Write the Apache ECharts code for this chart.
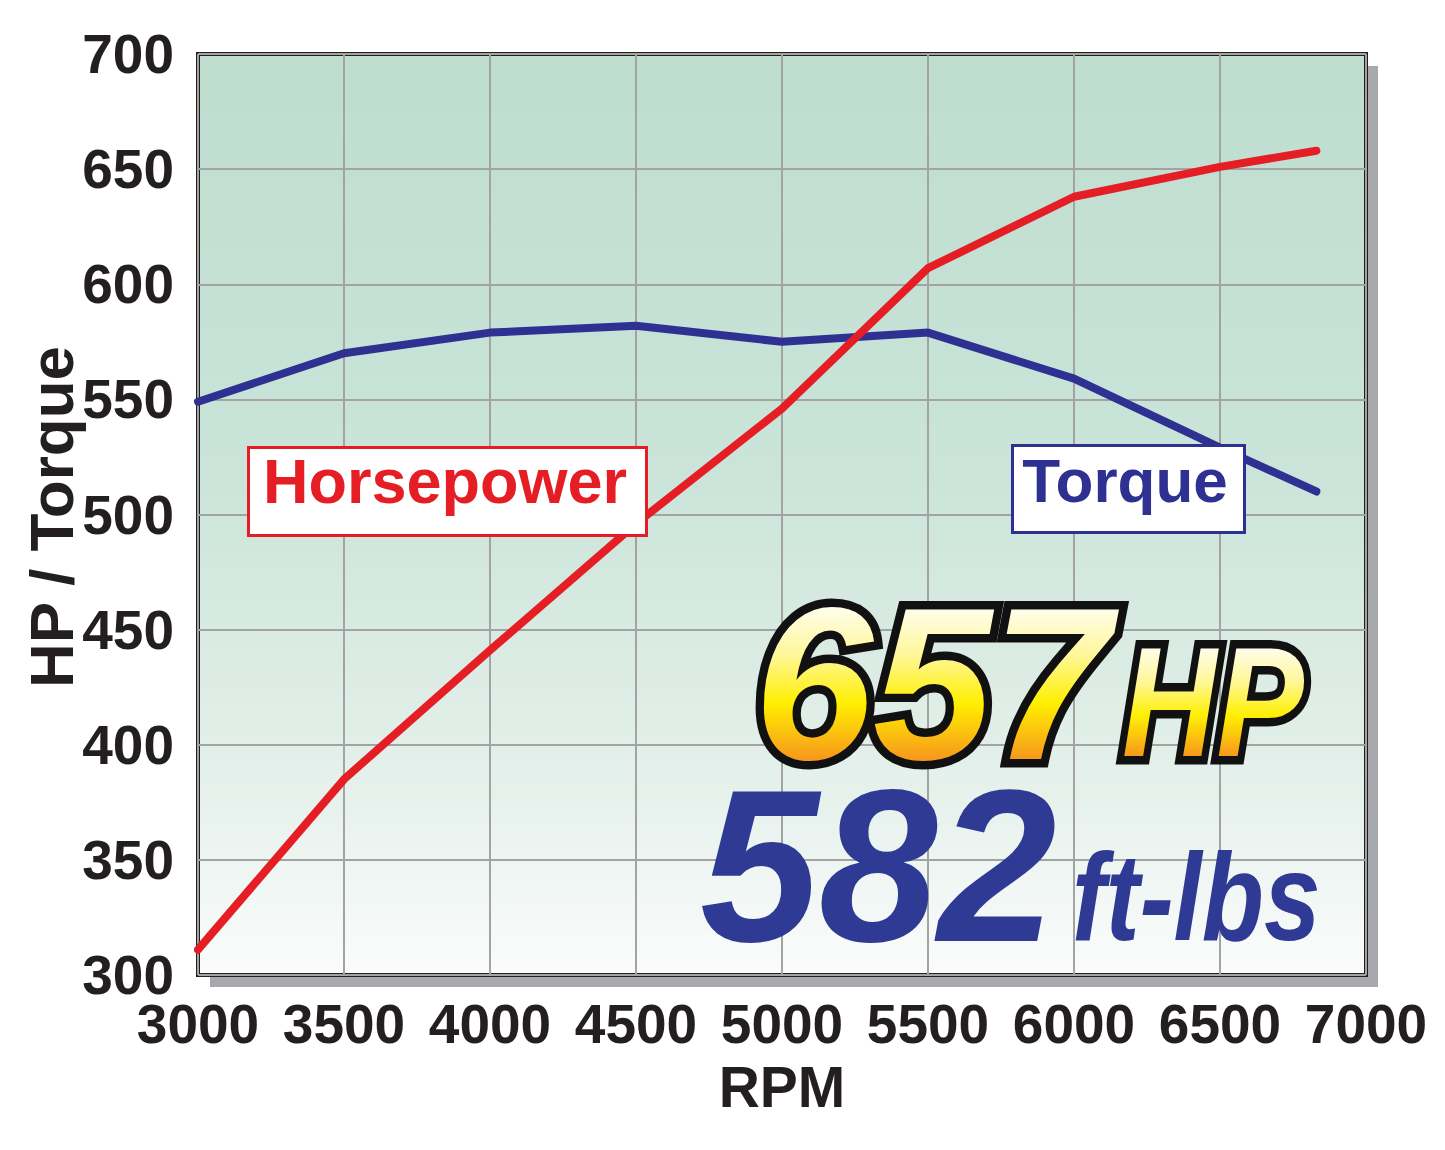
<!DOCTYPE html>
<html>
<head>
<meta charset="utf-8">
<script src="https://cdn.jsdelivr.net/npm/echarts@6/dist/echarts.min.js"></script>
<style>
html,body{margin:0;padding:0;background:#fff;}
#chart{width:1445px;height:1150px;}
</style>
</head>
<body>
<div id="chart"></div>
<script>
// ---- data ----
var rpm = [3000, 3500, 4000, 4500, 5000, 5500, 6000, 6500, 6830];
var horsepower = [311, 385, 441, 496, 546, 607, 638, 651, 658];
var torque = [549, 570, 579, 582, 575, 579, 559, 529, 510];
var xTicks = [3000, 7000, 500];   // min, max, step
var yTicks = [300, 700, 50];      // min, max, step
var peakHP = '657';
var peakTQ = '582';

var RED = '#E51E25';
var BLUE = '#2E3192';
var INK = '#231F20';
var GOLD_KEY = '#FFEF01';   // solid fallback; replaced by a yellow-orange gradient below
var TICKFONT = '"Liberation Sans", Arial, sans-serif';

function pairs(xs, ys) { return xs.map(function (x, i) { return [x, ys[i]]; }); }

var chart = echarts.init(document.getElementById('chart'), null, {renderer: 'svg'});

function bigText(txt, x, y, size, sx, fill, outline) {
  var els = [];
  var font = 'italic bold ' + size + 'px "Liberation Sans"';
  if (outline) {
    els.push({
      type: 'text', x: x, y: y, z: 110, scaleX: sx, originX: 0, originY: 0,
      style: {text: txt, fill: '#111111', stroke: '#111111', lineWidth: 17,
              lineJoin: 'round', font: font, textAlign: 'left', textVerticalAlign: 'middle'}
    });
  }
  els.push({
    type: 'text', x: x, y: y, z: 111, scaleX: sx, originX: 0, originY: 0,
    style: {text: txt, fill: fill, font: font, textAlign: 'left', textVerticalAlign: 'middle'}
  });
  return els;
}

var graphics = [
  // drop shadow behind the plot frame
  {
    type: 'rect', z: -10, silent: true,
    shape: {x: 210, y: 66, width: 1168, height: 921},
    style: {fill: '#A7A9AC'}
  },
  // axis titles
  {
    type: 'text', x: 51, y: 517, rotation: Math.PI / 2, z: 10,
    style: {text: 'HP / Torque', fill: INK, font: 'bold 62px "Liberation Sans"',
            textAlign: 'center', textVerticalAlign: 'middle'}
  },
  {
    type: 'text', x: 782, y: 1087, z: 10,
    style: {text: 'RPM', fill: INK, font: 'bold 57px "Liberation Sans"',
            textAlign: 'center', textVerticalAlign: 'middle'}
  },
  // series labels
  {
    type: 'rect', z: 100,
    shape: {x: 248.5, y: 447.5, width: 398, height: 88},
    style: {fill: '#ffffff', stroke: RED, lineWidth: 3}
  },
  {
    type: 'text', x: 445, y: 481, z: 101,
    style: {text: 'Horsepower', fill: RED, font: 'bold 63px "Liberation Sans"',
            textAlign: 'center', textVerticalAlign: 'middle'}
  },
  {
    type: 'rect', z: 100,
    shape: {x: 1012.5, y: 445.5, width: 232, height: 87},
    style: {fill: '#ffffff', stroke: BLUE, lineWidth: 3}
  },
  {
    type: 'text', x: 1125, y: 480, z: 101,
    style: {text: 'Torque', fill: BLUE, font: 'bold 62px "Liberation Sans"',
            textAlign: 'center', textVerticalAlign: 'middle'}
  }
];
graphics = graphics
  .concat(bigText(peakHP, 754, 684, 218, 0.98, GOLD_KEY, true))
  .concat(bigText('HP', 1122, 702, 156, 0.84, GOLD_KEY, true))
  .concat(bigText(peakTQ, 700, 866, 218, 0.98, '#2E3A93', false))
  .concat(bigText('ft-lbs', 1072, 897, 124, 0.82, '#2E3A93', false));

var option = {
  backgroundColor: '#ffffff',
  animation: false,
  grid: {
    left: 198, top: 54, right: 79, bottom: 175,
    show: true,
    backgroundColor: {
      type: 'linear', x: 0, y: 0, x2: 0, y2: 1,
      colorStops: [
        {offset: 0, color: '#BEDDCF'},
        {offset: 0.45, color: '#CAE4D9'},
        {offset: 0.8, color: '#E6F1EC'},
        {offset: 1, color: '#FAFCFB'}
      ]
    },
    borderColor: INK,
    borderWidth: 4
  },
  xAxis: {
    type: 'value',
    min: xTicks[0], max: xTicks[1], interval: xTicks[2],
    axisLine: {show: false},
    axisTick: {show: false},
    axisLabel: {
      color: INK, fontFamily: TICKFONT, fontWeight: 'bold',
      fontSize: 55, margin: 21, showMaxLabel: true, showMinLabel: true,
      formatter: function (v) { return String(v); }
    },
    splitLine: {show: true, lineStyle: {color: '#A3A3A3', width: 2}}
  },
  yAxis: {
    type: 'value',
    min: yTicks[0], max: yTicks[1], interval: yTicks[2],
    axisLine: {show: false},
    axisTick: {show: false},
    axisLabel: {
      color: INK, fontFamily: TICKFONT, fontWeight: 'bold',
      fontSize: 55, margin: 24, padding: [0, 0, 8, 0],
      formatter: function (v) { return String(v); }
    },
    splitLine: {show: true, lineStyle: {color: '#A3A3A3', width: 2}}
  },
  series: [
    {
      name: 'Torque', type: 'line', data: pairs(rpm, torque),
      symbol: 'none', z: 3,
      lineStyle: {color: BLUE, width: 8, cap: 'round', join: 'round'}
    },
    {
      name: 'Horsepower', type: 'line', data: pairs(rpm, horsepower),
      symbol: 'none', z: 4,
      lineStyle: {color: RED, width: 8, cap: 'round', join: 'round'}
    }
  ],
  graphic: graphics
};

// give the yellow callout text its vertical white-yellow-orange gradient (SVG text stays real text)
function applyGradient() {
  var svg = document.querySelector('#chart svg');
  if (!svg) return;
  var ns = 'http://www.w3.org/2000/svg';
  if (!document.getElementById('ygrad')) {
    var defs = document.createElementNS(ns, 'defs');
    var lg = document.createElementNS(ns, 'linearGradient');
    lg.setAttribute('id', 'ygrad');
    lg.setAttribute('x1', '0'); lg.setAttribute('y1', '0');
    lg.setAttribute('x2', '0'); lg.setAttribute('y2', '1');
    [[0.0, '#FFFFF2'], [0.2, '#FFFDE6'], [0.38, '#FFF79A'], [0.58, '#FFEF00'], [0.82, '#F7941D'], [1, '#F7941D']]
      .forEach(function (s) {
        var st = document.createElementNS(ns, 'stop');
        st.setAttribute('offset', s[0]);
        st.setAttribute('stop-color', s[1]);
        lg.appendChild(st);
      });
    defs.appendChild(lg);
    svg.insertBefore(defs, svg.firstChild);
  }
  var texts = svg.querySelectorAll('text');
  for (var i = 0; i < texts.length; i++) {
    var f = (texts[i].getAttribute('fill') || '').toLowerCase().replace(/\s/g, '');
    if (f === GOLD_KEY.toLowerCase() || f === 'rgb(255,239,1)') {
      texts[i].style.fill = 'url(#ygrad)';
    }
  }
}
chart.on('finished', applyGradient);
chart.setOption(option);
applyGradient();
setTimeout(applyGradient, 30);
</script>
</body>
</html>
